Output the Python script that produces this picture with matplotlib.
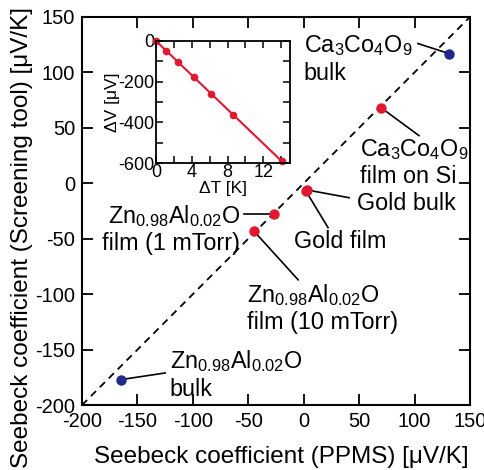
import matplotlib
matplotlib.use("Agg")
import matplotlib.pyplot as plt
import numpy as np

plt.rcParams["font.family"] = ["Liberation Sans", "DejaVu Sans"]
plt.rcParams["mathtext.default"] = "regular"
plt.rcParams["mathtext.fontset"] = "custom"
plt.rcParams["mathtext.rm"] = "Liberation Sans"
plt.rcParams["axes.unicode_minus"] = False

# main panel: PPMS vs screening tool (uV/K)
sample_names = [
    "Ca$_3$Co$_4$O$_9$\nbulk",
    "Ca$_3$Co$_4$O$_9$\nfilm on Si",
    "Gold bulk",
    "Gold film",
    "Zn$_{0.98}$Al$_{0.02}$O\nfilm (1 mTorr)",
    "Zn$_{0.98}$Al$_{0.02}$O\nfilm (10 mTorr)",
    "Zn$_{0.98}$Al$_{0.02}$O\nbulk",
]
ppms = [131, 70, 3, 2, -27, -45, -165]
screening = [117, 68, -6, -7, -28, -43, -177]
is_bulk_ref = [True, False, False, False, False, False, True]

# inset: voltage vs temperature difference
delta_t = [0.0, 1.1, 2.5, 4.2, 6.2, 8.6, 14.1]
delta_v = [0, -51, -103, -178, -259, -363, -592]

RED = "#e01830"
BLUE = "#1f2a8a"

fig = plt.figure(figsize=(4.85, 4.7), dpi=100)
ax = fig.add_axes([0.169, 0.138, 0.800, 0.826])

ax.plot([-200, 150], [-200, 150], ls=(0, (4, 3)), color="black", lw=1.3, zorder=1)
for x, y, ref in zip(ppms, screening, is_bulk_ref):
    ax.plot(x, y, "o", ms=7.5, color=BLUE if ref else RED, mec="none", zorder=3)

# text position and leader line end for each label
label_pos = [(0, 135, "left"), (51, 42, "left"), (48, -8, "left"), (-9, -42, "left"),
             (-57, -18, "right"), (-51, -89, "left"), (-121, -149, "left")]
line_end = [(103, 126), (104, 43), (41, -13), (22, -40), (-54, -28), (-5, -87), (-125, -171)]

for name, x, y, (tx, ty, ha), (ex, ey) in zip(sample_names, ppms, screening, label_pos, line_end):
    ax.plot([x, ex], [y, ey], color="black", lw=1.2, zorder=2)
    ax.text(tx, ty, name, ha=ha, va="top", fontsize=16.8, linespacing=1.18)

ax.set_xlim(-200, 150)
ax.set_ylim(-200, 150)
ax.set_xticks(np.arange(-200, 151, 50))
ax.set_yticks(np.arange(-200, 151, 50))
ax.tick_params(direction="in", top=True, right=True, length=8, width=1.3,
               labelsize=14.5, pad=5)
for s in ax.spines.values():
    s.set_linewidth(1.5)
ax.set_xlabel("Seebeck coefficient (PPMS) [\u03bcV/K]", fontsize=17.5)
ax.set_ylabel("Seebeck coefficient (Screening tool) [\u03bcV/K]", fontsize=17.5)
ax.xaxis.set_label_coords(0.513, -0.134)
ax.yaxis.set_label_coords(-0.155, 0.433)
ax.xaxis.label.set_va("center")
ax.yaxis.label.set_va("center")

ins = fig.add_axes([0.322, 0.653, 0.276, 0.260])
fit = np.polyfit(delta_t, delta_v, 1)
ins.plot(delta_t, np.polyval(fit, delta_t), color=RED, lw=1.5)
ins.plot(delta_t, delta_v, "o", ms=5.5, color=RED, mec="none", clip_on=False)
ins.set_xlim(0, 15)
ins.set_ylim(-600, 0)
ins.set_xticks([0, 4, 8, 12])
ins.set_xticks(np.arange(0, 15, 2), minor=True)
ins.set_yticks([0, -200, -400, -600])
ins.set_yticks(np.arange(-600, 1, 100), minor=True)
ins.tick_params(which="both", direction="in", top=True, right=True, width=1.1,
                labelsize=13, pad=1)
ins.tick_params(which="major", length=5)
ins.tick_params(which="minor", length=5)
for s in ins.spines.values():
    s.set_linewidth(1.3)
ins.set_xlabel("\u0394T [K]", fontsize=12.5, labelpad=0)
ins.set_ylabel("\u0394V [\u03bcV]", fontsize=12.5, labelpad=-1)

fig.savefig("out.png", dpi=100)
